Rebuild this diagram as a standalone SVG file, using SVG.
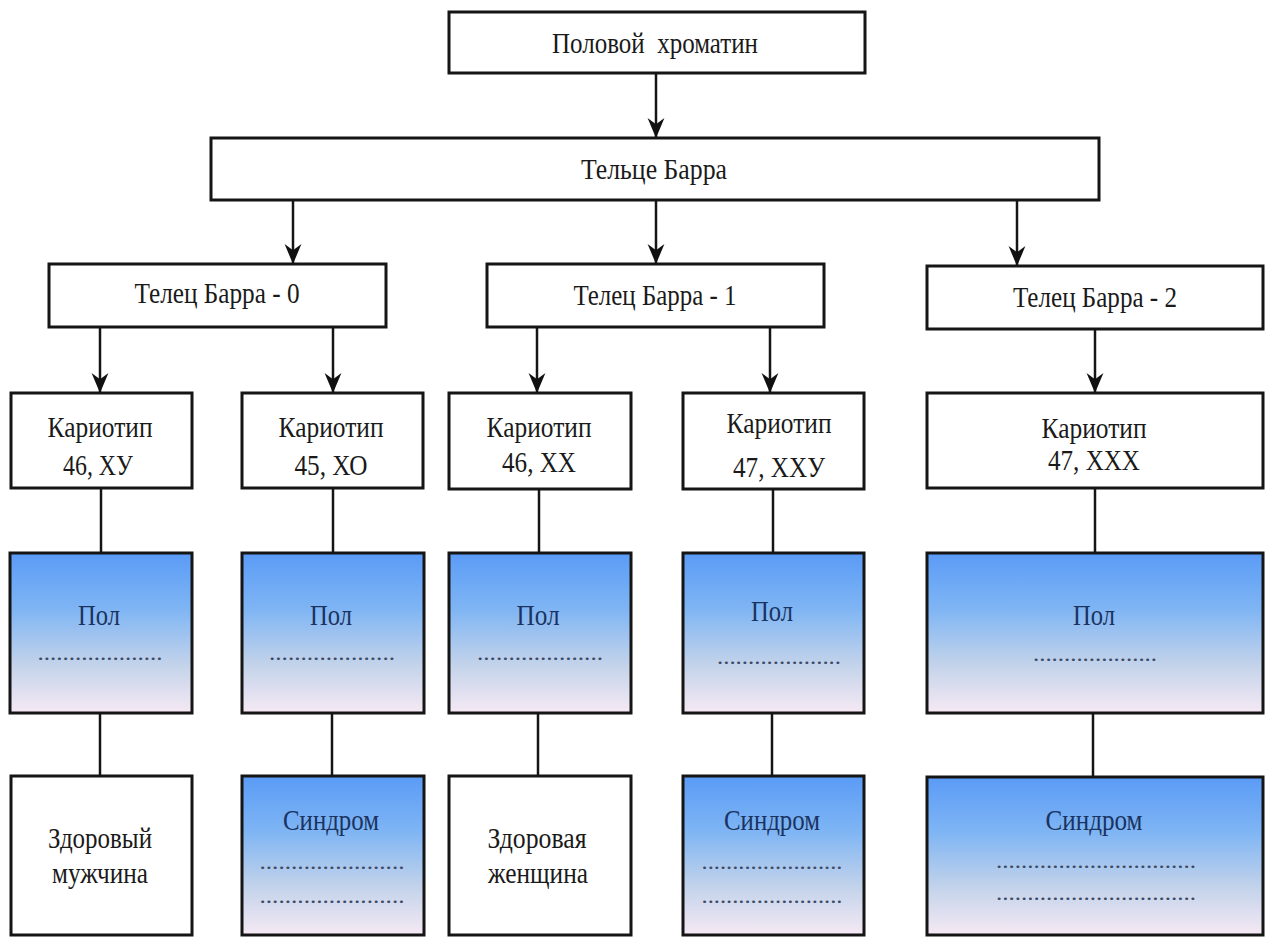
<svg xmlns="http://www.w3.org/2000/svg" width="1266" height="937" viewBox="0 0 1266 937" font-family="'Liberation Serif', 'Times New Roman', serif">
  <defs>
    <linearGradient id="fillBlue" x1="0" y1="0" x2="0" y2="1">
      <stop offset="0" stop-color="#5a9bf6"/>
      <stop offset="0.35" stop-color="#7fb5f4"/>
      <stop offset="0.7" stop-color="#c3d3ea"/>
      <stop offset="1" stop-color="#f6e9f4"/>
    </linearGradient>
    <marker id="arrow" markerUnits="userSpaceOnUse" markerWidth="20" markerHeight="20" viewBox="0 -9 19 18" refX="18" refY="0" orient="auto">
      <path d="M0,-8 L19,0 L0,8 L6,0 Z" fill="#111"/>
    </marker>
  </defs>
  <style>
    .box { fill: #ffffff; stroke: #151515; stroke-width: 3; }
    .grad { fill: url(#fillBlue); stroke: #151515; stroke-width: 3; }
    text { font-family: 'Liberation Serif', 'Times New Roman', serif; }
    .txt { font-size: 29px; fill: #1a1a1a; text-anchor: middle; }
    .blue { font-size: 29px; fill: #1a3360; text-anchor: middle; }
    .dots { font-size: 20px; fill: #3c4a66; text-anchor: middle; }
    .link { stroke: #151515; stroke-width: 2.5; fill: none; }
    .arr { stroke: #151515; stroke-width: 2.5; fill: none; marker-end: url(#arrow); }
  </style>
  <rect width="1266" height="937" fill="#ffffff"/>

  <!-- connectors -->
  <g id="connectors">
    <line class="arr" x1="656" y1="73" x2="656" y2="137"/>
    <line class="arr" x1="293" y1="200" x2="293" y2="263"/>
    <line class="arr" x1="656" y1="200" x2="656" y2="263"/>
    <line class="arr" x1="1017" y1="200" x2="1017" y2="265"/>
    <line class="arr" x1="100" y1="327" x2="100" y2="392"/>
    <line class="arr" x1="333" y1="327" x2="333" y2="392"/>
    <line class="arr" x1="537" y1="327" x2="537" y2="392"/>
    <line class="arr" x1="770" y1="327" x2="770" y2="392"/>
    <line class="arr" x1="1095" y1="329" x2="1095" y2="392"/>
    <line class="link" x1="101" y1="488" x2="101" y2="553"/>
    <line class="link" x1="333" y1="488" x2="333" y2="553"/>
    <line class="link" x1="539" y1="489" x2="539" y2="553"/>
    <line class="link" x1="773" y1="489" x2="773" y2="553"/>
    <line class="link" x1="1095" y1="488" x2="1095" y2="553"/>
    <line class="link" x1="100" y1="713" x2="100" y2="776"/>
    <line class="link" x1="332" y1="713" x2="332" y2="776"/>
    <line class="link" x1="538" y1="713" x2="538" y2="776"/>
    <line class="link" x1="772" y1="713" x2="772" y2="776"/>
    <line class="link" x1="1093" y1="713" x2="1093" y2="777"/>
  </g>

  <!-- top level -->
  <g id="sex-chromatin">
    <rect class="box" x="449" y="12" width="416" height="61"/>
    <text class="txt" x="655" y="53" textLength="206" lengthAdjust="spacingAndGlyphs" xml:space="preserve">Половой  хроматин</text>
  </g>
  <g id="barr-bodies">
    <rect class="box" x="211" y="138" width="888" height="62"/>
    <text class="txt" x="654" y="179" textLength="146" lengthAdjust="spacingAndGlyphs">Тельце Барра</text>
  </g>

  <!-- number of Barr bodies -->
  <g id="barr-0">
    <rect class="box" x="49" y="264" width="337" height="63"/>
    <text class="txt" x="217" y="303" textLength="165" lengthAdjust="spacingAndGlyphs">Телец Барра - 0</text>
  </g>
  <g id="barr-1">
    <rect class="box" x="487" y="264" width="337" height="63"/>
    <text class="txt" x="655" y="305" textLength="163" lengthAdjust="spacingAndGlyphs">Телец Барра - 1</text>
  </g>
  <g id="barr-2">
    <rect class="box" x="927" y="266" width="336" height="63"/>
    <text class="txt" x="1095" y="307" textLength="164" lengthAdjust="spacingAndGlyphs">Телец Барра - 2</text>
  </g>

  <!-- karyotypes -->
  <g id="karyotype-46xy">
    <rect class="box" x="11" y="393" width="181" height="95"/>
    <text class="txt" x="100" y="437" textLength="105" lengthAdjust="spacingAndGlyphs">Кариотип</text>
    <text class="txt" x="98" y="475" textLength="70" lengthAdjust="spacingAndGlyphs">46, ХУ</text>
  </g>
  <g id="karyotype-45xo">
    <rect class="box" x="242" y="393" width="181" height="95"/>
    <text class="txt" x="331" y="437" textLength="105" lengthAdjust="spacingAndGlyphs">Кариотип</text>
    <text class="txt" x="331" y="475" textLength="73" lengthAdjust="spacingAndGlyphs">45, ХО</text>
  </g>
  <g id="karyotype-46xx">
    <rect class="box" x="449" y="393" width="182" height="96"/>
    <text class="txt" x="539" y="437" textLength="105" lengthAdjust="spacingAndGlyphs">Кариотип</text>
    <text class="txt" x="539" y="472" textLength="74" lengthAdjust="spacingAndGlyphs">46, ХХ</text>
  </g>
  <g id="karyotype-47xxy">
    <rect class="box" x="683" y="393" width="181" height="96"/>
    <text class="txt" x="779" y="433" textLength="105" lengthAdjust="spacingAndGlyphs">Кариотип</text>
    <text class="txt" x="779" y="477" textLength="92" lengthAdjust="spacingAndGlyphs">47, ХХУ</text>
  </g>
  <g id="karyotype-47xxx">
    <rect class="box" x="927" y="393" width="336" height="95"/>
    <text class="txt" x="1094" y="438" textLength="105" lengthAdjust="spacingAndGlyphs">Кариотип</text>
    <text class="txt" x="1094" y="470" textLength="92" lengthAdjust="spacingAndGlyphs">47, ХХХ</text>
  </g>

  <!-- sex -->
  <g id="sex-1">
    <rect class="grad" x="10" y="553" width="182" height="160"/>
    <text class="blue" x="99" y="625" textLength="42" lengthAdjust="spacingAndGlyphs">Пол</text>
    <text class="dots" x="100" y="660" textLength="125" lengthAdjust="spacingAndGlyphs">....................</text>
  </g>
  <g id="sex-2">
    <rect class="grad" x="242" y="553" width="182" height="160"/>
    <text class="blue" x="331" y="625" textLength="42" lengthAdjust="spacingAndGlyphs">Пол</text>
    <text class="dots" x="332" y="660" textLength="126" lengthAdjust="spacingAndGlyphs">....................</text>
  </g>
  <g id="sex-3">
    <rect class="grad" x="449" y="553" width="182" height="160"/>
    <text class="blue" x="538" y="625" textLength="43" lengthAdjust="spacingAndGlyphs">Пол</text>
    <text class="dots" x="540" y="660" textLength="126" lengthAdjust="spacingAndGlyphs">....................</text>
  </g>
  <g id="sex-4">
    <rect class="grad" x="683" y="553" width="181" height="160"/>
    <text class="blue" x="772" y="621" textLength="42" lengthAdjust="spacingAndGlyphs">Пол</text>
    <text class="dots" x="779" y="664" textLength="124" lengthAdjust="spacingAndGlyphs">....................</text>
  </g>
  <g id="sex-5">
    <rect class="grad" x="927" y="553" width="336" height="160"/>
    <text class="blue" x="1094" y="625" textLength="42" lengthAdjust="spacingAndGlyphs">Пол</text>
    <text class="dots" x="1095" y="661" textLength="124" lengthAdjust="spacingAndGlyphs">....................</text>
  </g>

  <!-- outcomes -->
  <g id="healthy-male">
    <rect class="box" x="11" y="776" width="181" height="159"/>
    <text class="txt" x="100" y="848" textLength="104" lengthAdjust="spacingAndGlyphs">Здоровый</text>
    <text class="txt" x="100" y="883" textLength="96" lengthAdjust="spacingAndGlyphs">мужчина</text>
  </g>
  <g id="syndrome-2">
    <rect class="grad" x="242" y="776" width="182" height="159"/>
    <text class="blue" x="331" y="830" textLength="96" lengthAdjust="spacingAndGlyphs">Синдром</text>
    <text class="dots" x="332" y="869" textLength="145" lengthAdjust="spacingAndGlyphs">.......................</text>
    <text class="dots" x="332" y="903" textLength="145" lengthAdjust="spacingAndGlyphs">.......................</text>
  </g>
  <g id="healthy-female">
    <rect class="box" x="449" y="776" width="182" height="159"/>
    <text class="txt" x="537" y="848" textLength="99" lengthAdjust="spacingAndGlyphs">Здоровая</text>
    <text class="txt" x="538" y="883" textLength="100" lengthAdjust="spacingAndGlyphs">женщина</text>
  </g>
  <g id="syndrome-4">
    <rect class="grad" x="683" y="776" width="181" height="159"/>
    <text class="blue" x="772" y="830" textLength="96" lengthAdjust="spacingAndGlyphs">Синдром</text>
    <text class="dots" x="772" y="869" textLength="141" lengthAdjust="spacingAndGlyphs">.......................</text>
    <text class="dots" x="772" y="903" textLength="141" lengthAdjust="spacingAndGlyphs">.......................</text>
  </g>
  <g id="syndrome-5">
    <rect class="grad" x="927" y="777" width="336" height="158"/>
    <text class="blue" x="1094" y="830" textLength="97" lengthAdjust="spacingAndGlyphs">Синдром</text>
    <text class="dots" x="1096" y="868" textLength="200" lengthAdjust="spacingAndGlyphs">................................</text>
    <text class="dots" x="1096" y="900" textLength="200" lengthAdjust="spacingAndGlyphs">................................</text>
  </g>
</svg>
